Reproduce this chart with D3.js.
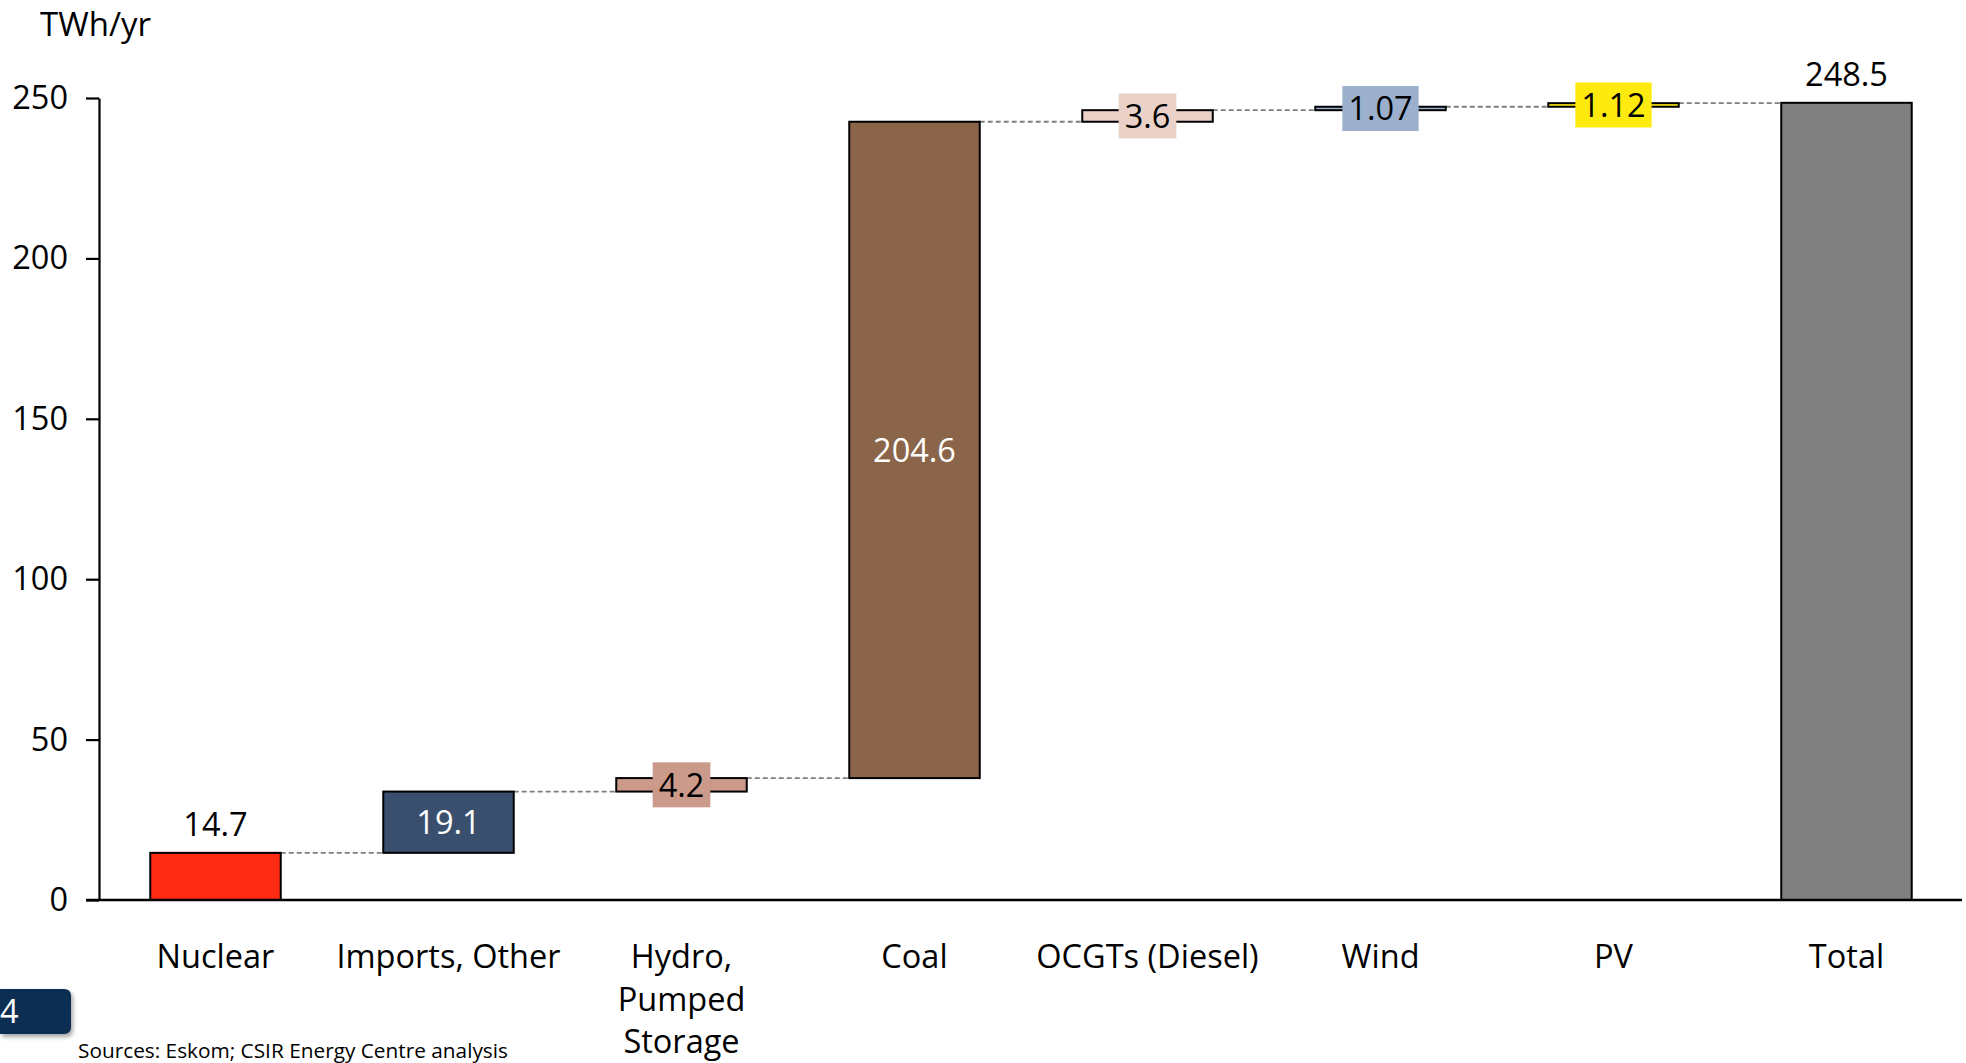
<!DOCTYPE html>
<html>
<head>
<meta charset="utf-8">
<script src="https://cdn.jsdelivr.net/npm/d3@7"></script>
<style>
  html, body { margin: 0; padding: 0; background: #fff; }
  svg { display: block; }
  text { font-family: "Open Sans", Lato, sans-serif; }
</style>
</head>
<body>
<script>
// Electricity supply build-up by source, TWh per year
const categories = ["Nuclear", "Imports, Other", "Hydro, Pumped Storage", "Coal", "OCGTs (Diesel)", "Wind", "PV", "Total"];
const categoryLines = [["Nuclear"], ["Imports, Other"], ["Hydro,", "Pumped", "Storage"], ["Coal"], ["OCGTs (Diesel)"], ["Wind"], ["PV"], ["Total"]];
const values = [14.7, 19.1, 4.2, 204.6, 3.6, 1.07, 1.12, 248.5];
const valueLabels = ["14.7", "19.1", "4.2", "204.6", "3.6", "1.07", "1.12", "248.5"];
const isTotal = [false, false, false, false, false, false, false, true];
const fills = ["#FF2A12", "#3A4E6D", "#CB9A8A", "#8B6549", "#EAD2C9", "#9CB0CE", "#FFEA10", "#808080"];
const labelStyle = ["above", "inside", "boxed", "inside", "boxed", "boxed", "boxed", "above"];
const labelColors = ["#000", "#fff", "#000", "#fff", "#000", "#000", "#000", "#000"];
const yTicks = [0, 50, 100, 150, 200, 250];

const W = 1966, H = 1063;
const FONT = "'Open Sans', Lato, sans-serif";
const FS = 32.5;
const svg = d3.select("body").append("svg").attr("width", W).attr("height", H);

const x = d3.scaleBand().domain(categories).range([99, 1963]).paddingInner(0.44).paddingOuter(0.22);
const y = d3.scaleLinear().domain([0, 250]).range([900, 98]);

// running totals for the floating segments
let run = 0;
const bars = categories.map((c, i) => {
  let y0, y1;
  if (isTotal[i]) { y0 = 0; y1 = values[i]; run = values[i]; }
  else { y0 = run; y1 = run + values[i]; run = y1; }
  return { c, i, y0, y1 };
});

// dashed connectors between consecutive bars
const conn = svg.append("g");
bars.slice(0, -1).forEach((b, k) => {
  const nxt = bars[k + 1];
  conn.append("line")
    .attr("x1", x(b.c) + x.bandwidth()).attr("x2", x(nxt.c))
    .attr("y1", y(b.y1)).attr("y2", y(b.y1))
    .attr("stroke", "#7f7f7f").attr("stroke-width", 1.8).attr("stroke-dasharray", "5,3");
});

// bars
svg.append("g").selectAll("rect").data(bars).join("rect")
  .attr("x", d => x(d.c))
  .attr("width", x.bandwidth())
  .attr("y", d => y(d.y1))
  .attr("height", d => y(d.y0) - y(d.y1))
  .attr("fill", d => fills[d.i])
  .attr("stroke", "#000").attr("stroke-width", 2);

// value labels
const lab = svg.append("g").attr("font-size", FS);
bars.forEach(d => {
  const cx = x(d.c) + x.bandwidth() / 2;
  const st = labelStyle[d.i];
  if (st === "above") {
    lab.append("text").attr("x", cx).attr("y", y(d.y1) - 17)
      .attr("text-anchor", "middle").attr("fill", labelColors[d.i]).text(valueLabels[d.i]);
  } else if (st === "inside") {
    lab.append("text").attr("x", cx).attr("y", (y(d.y0) + y(d.y1)) / 2)
      .attr("dy", "0.36em").attr("text-anchor", "middle").attr("fill", labelColors[d.i]).text(valueLabels[d.i]);
  } else {
    const cy = (y(d.y0) + y(d.y1)) / 2;
    const t = lab.append("text").attr("x", cx).attr("y", cy)
      .attr("dy", "0.36em").attr("text-anchor", "middle").attr("fill", labelColors[d.i]).text(valueLabels[d.i]);
    const bb = t.node().getBBox();
    lab.insert("rect", () => t.node())
      .attr("x", cx - bb.width / 2 - 6).attr("width", bb.width + 12)
      .attr("y", cy - 22.5).attr("height", 45)
      .attr("fill", fills[d.i]);
  }
});

// y axis
const yAxis = svg.append("g").attr("transform", "translate(99,0)")
  .call(d3.axisLeft(y).tickValues(yTicks).tickSize(13).tickSizeOuter(0).tickPadding(18));
yAxis.select(".domain").attr("stroke", "#000").attr("stroke-width", 2.2);
yAxis.selectAll(".tick line").attr("stroke", "#000").attr("stroke-width", 2.2);
yAxis.selectAll(".tick text").attr("font-size", FS).attr("font-family", FONT).attr("fill", "#000");

// x axis baseline
svg.append("line").attr("x1", 86).attr("x2", 1962).attr("y1", y(0)).attr("y2", y(0))
  .attr("stroke", "#000").attr("stroke-width", 2.5);

// category labels
const cl = svg.append("g").attr("font-size", FS);
categories.forEach((c, i) => {
  const t = cl.append("text").attr("x", x(c) + x.bandwidth() / 2).attr("y", 968)
    .attr("text-anchor", "middle").attr("fill", "#000");
  categoryLines[i].forEach((ln, k) => {
    t.append("tspan").attr("x", x(c) + x.bandwidth() / 2).attr("dy", k === 0 ? 0 : 42.5).text(ln);
  });
});

// unit label
svg.append("text").attr("x", 40).attr("y", 36).attr("font-size", 33).attr("fill", "#000").text("TWh/yr");

// page badge
const defs = svg.append("defs");
const f = defs.append("filter").attr("id", "sh").attr("x", "-20%").attr("y", "-20%").attr("width", "150%").attr("height", "160%");
f.append("feDropShadow").attr("dx", 2).attr("dy", 3).attr("stdDeviation", 2).attr("flood-color", "#000").attr("flood-opacity", 0.35);
svg.append("path")
  .attr("d", "M0,989 H64 Q71,989 71,996 V1027 Q71,1034 64,1034 H0 Z")
  .attr("fill", "#0C2E52").attr("filter", "url(#sh)");
svg.append("text").attr("x", 0).attr("y", 1023).attr("font-size", FS).attr("fill", "#fff").text("4");

// source note
svg.append("text").attr("x", 78).attr("y", 1058).attr("font-size", 20.8).attr("fill", "#000")
  .text("Sources: Eskom; CSIR Energy Centre analysis");
</script>
</body>
</html>
